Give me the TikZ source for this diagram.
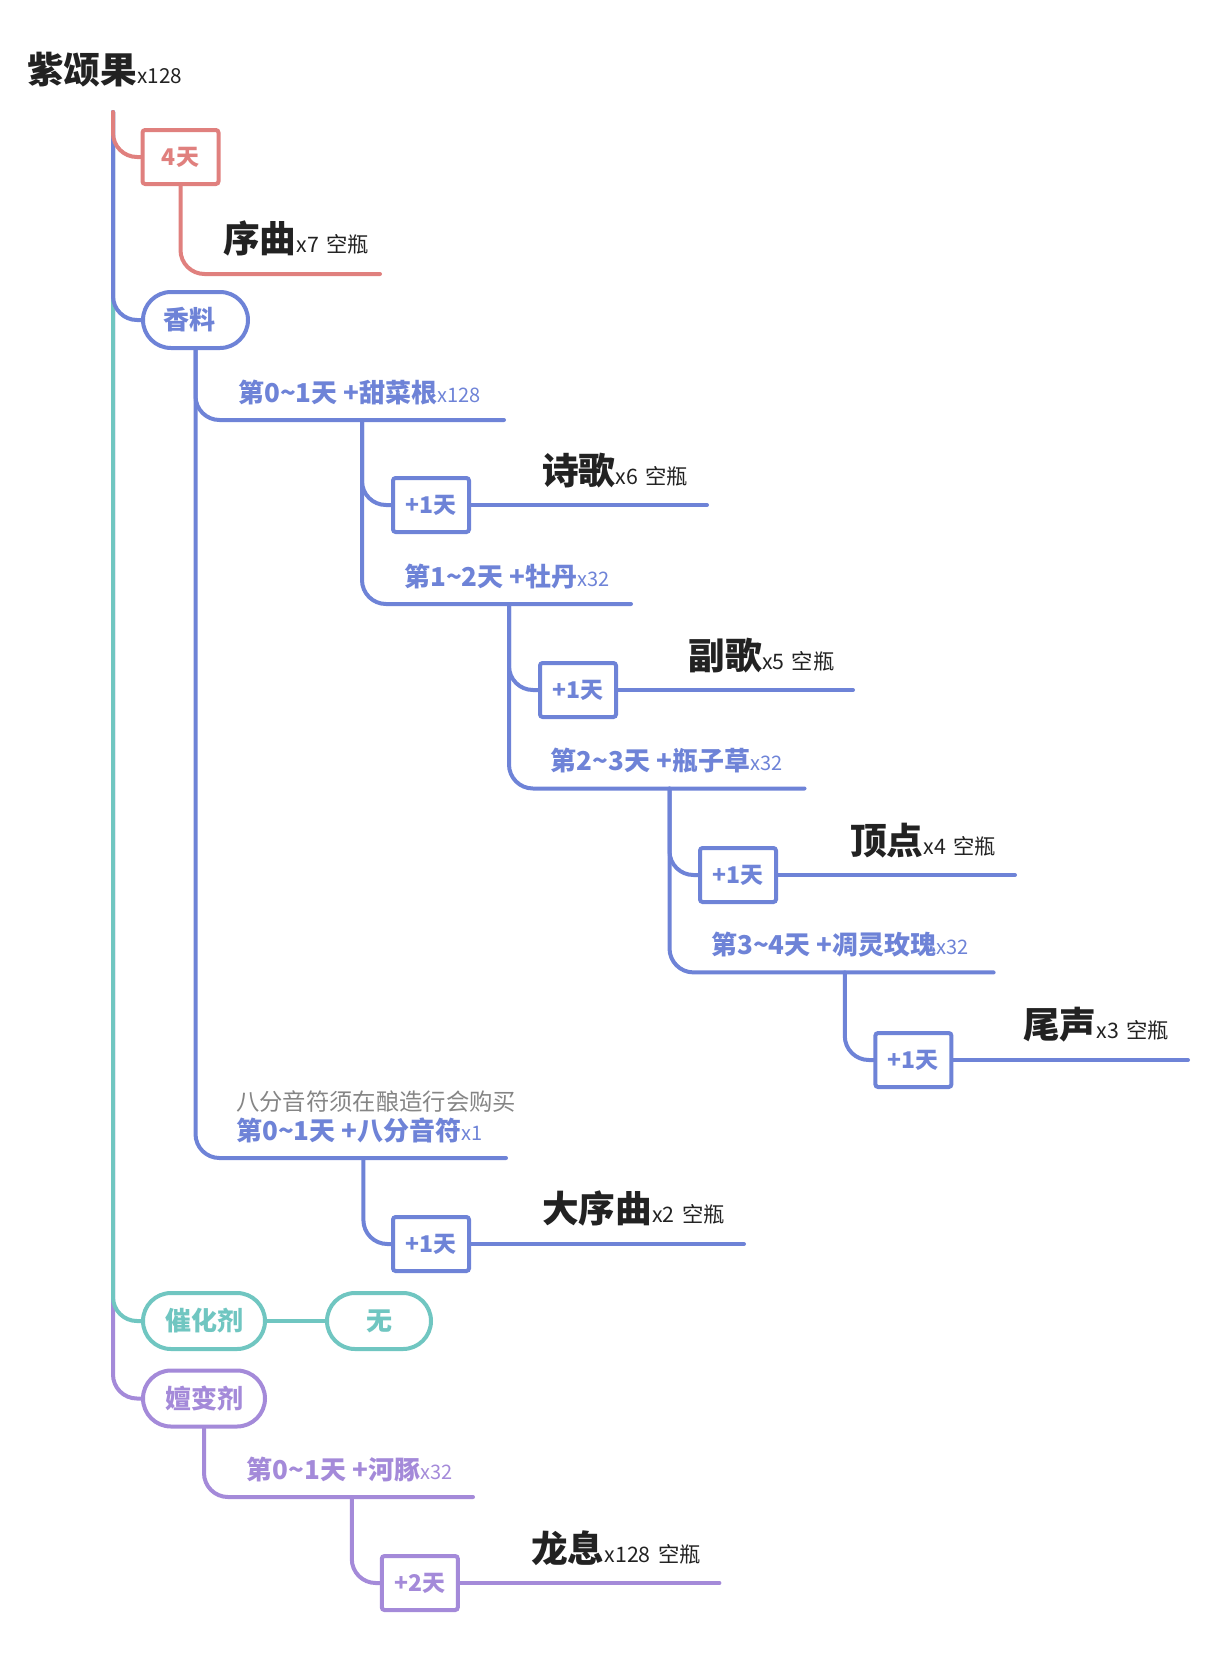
\documentclass[tikz,border=0pt]{standalone}
\usepackage{fontspec}
\setmainfont{Noto Sans CJK SC}
\definecolor{cred}{HTML}{E0807E}
\definecolor{cblue}{HTML}{6E83D7}
\definecolor{cteal}{HTML}{70C6C1}
\definecolor{cpurp}{HTML}{A48AD9}
\definecolor{cgray}{HTML}{858585}
\definecolor{cdark}{HTML}{222222}
\newcommand\fsz[1]{\fontsize{#1}{#1}\selectfont}
\newcommand\prodname[3]{{\fsz{27.5pt}\bfseries #1}{\fsz{16pt}#2\hspace{5.5pt}#3}}
\newcommand\brlab[2]{{\fsz{19.5pt}\bfseries #1}{\fsz{15pt}#2}}
\begin{document}
\begin{tikzpicture}[x=0.75pt,y=-0.75pt,
  ln/.style={line width=3pt,line cap=round,rounded corners=18pt},
  daybox/.style={draw,line width=3pt,rounded corners=2pt,minimum width=57pt,minimum height=40.5pt,inner sep=0pt,fill=white,font=\fsz{17.25pt}\bfseries},
  pill/.style={draw,line width=3pt,rounded corners=21pt,minimum height=42pt,inner sep=0pt,fill=white,font=\fsz{19.5pt}\bfseries},
  txt/.style={anchor=base west,inner sep=0pt,text=cdark},
  blab/.style={anchor=base west,inner sep=0pt}]
\useasboundingbox (0,0) rectangle (1220,1667);
% nodes
\node[txt] (title) at (27,83) {{\fsz{27.5pt}\bfseries 紫颂果}{\fsz{15.5pt}x128}};
\coordinate (root) at (113,112);
\node[daybox,draw=cred,text=cred] (d4) at (180.5,157) {4天};
\node[txt] (n0) at (223,252) {\prodname{序曲}{x7}{空瓶}};
\coordinate (e0) at (380,274);

\node[pill,draw=cblue,text=cblue,minimum width=78.75pt] (spice) at (195.5,320) {香料\kern9pt};
\node[blab,text=cblue] (b1) at (238,402) {\brlab{第0\textasciitilde1天 +甜菜根}{x128}};
\coordinate (b1e) at (504,420);
\coordinate (v1) at (362,420);
\node[daybox,draw=cblue,text=cblue] (p1) at (431,505) {+1天};
\node[txt] (n1) at (542,484) {\prodname{诗歌}{x6}{空瓶}};
\coordinate (p1e) at (707,505);

\node[blab,text=cblue] (b2) at (404,586) {\brlab{第1\textasciitilde2天 +牡丹}{x32}};
\coordinate (b2e) at (631,604);
\coordinate (v2) at (509,604);
\node[daybox,draw=cblue,text=cblue] (p2) at (578,690) {+1天};
\node[txt] (n2) at (688.6,669) {\prodname{副歌}{x5}{空瓶}};
\coordinate (p2e) at (853,690);

\node[blab,text=cblue] (b3) at (550.5,770.5) {\brlab{第2\textasciitilde3天 +瓶子草}{x32}};
\coordinate (b3e) at (804.5,788.5);
\coordinate (v3) at (669.5,788.5);
\node[daybox,draw=cblue,text=cblue] (p3) at (738,875) {+1天};
\node[txt] (n3) at (850,854) {\prodname{顶点}{x4}{空瓶}};
\coordinate (p3e) at (1015,875);

\node[blab,text=cblue] (b4) at (711,954.4) {\brlab{第3\textasciitilde4天 +凋灵玫瑰}{x32}};
\coordinate (b4e) at (993.6,972.4);
\coordinate (v4) at (844.8,972.4);
\node[daybox,draw=cblue,text=cblue] (p4) at (913.4,1060) {+1天};
\node[txt] (n4) at (1023,1038.5) {\prodname{尾声}{x3}{空瓶}};
\coordinate (p4e) at (1188,1060);

\node[blab,text=cgray,font=\fsz{17.5pt}] (gnote) at (236,1110) {八分音符须在酿造行会购买};
\node[blab,text=cblue] (b5) at (236,1140) {\brlab{第0\textasciitilde1天 +八分音符}{x1}};
\coordinate (b5e) at (506,1158);
\coordinate (v5) at (363.4,1158);
\node[daybox,draw=cblue,text=cblue] (p5) at (431,1244) {+1天};
\node[txt] (n5) at (542,1222) {\prodname{大序曲}{x2}{空瓶}};
\coordinate (p5e) at (744,1244);

\node[pill,draw=cteal,text=cteal,minimum width=91.5pt] (cat) at (204,1321) {催化剂};
\node[pill,draw=cteal,text=cteal,minimum width=78pt] (none) at (379,1321) {无};

\node[pill,draw=cpurp,text=cpurp,minimum width=91.5pt] (chg) at (204,1398.5) {嬗变剂};
\node[blab,text=cpurp] (b6) at (246.5,1479) {\brlab{第0\textasciitilde1天 +河豚}{x32}};
\coordinate (b6e) at (473,1497);
\coordinate (v6) at (351.8,1497);
\node[daybox,draw=cpurp,text=cpurp] (pp) at (419.8,1583) {+2天};
\node[txt] (n6) at (531,1562) {\prodname{龙息}{x128}{空瓶}};
\coordinate (ppe) at (719.4,1583);

% connectors
\draw[ln,cpurp] (root) |- (chg.west);
\draw[ln,cteal] (root) |- (cat.west);
\draw[ln,cblue] (root) |- (spice.west);
\draw[ln,cred] (root) |- (d4.west);
\draw[ln,cred] (d4.south) |- (e0);

\draw[ln,cblue] (spice.south) |- (b1e);
\draw[ln,cblue] (spice.south) |- (b5e);
\draw[ln,cblue] (v1) |- (p1.west);
\draw[ln,cblue] (v1) |- (b2e);
\draw[ln,cblue] (p1.east) -- (p1e);
\draw[ln,cblue] (v2) |- (p2.west);
\draw[ln,cblue] (v2) |- (b3e);
\draw[ln,cblue] (p2.east) -- (p2e);
\draw[ln,cblue] (v3) |- (p3.west);
\draw[ln,cblue] (v3) |- (b4e);
\draw[ln,cblue] (p3.east) -- (p3e);
\draw[ln,cblue] (v4) |- (p4.west);
\draw[ln,cblue] (p4.east) -- (p4e);
\draw[ln,cblue] (v5) |- (p5.west);
\draw[ln,cblue] (p5.east) -- (p5e);

\draw[ln,cteal] (cat.east) -- (none.west);

\draw[ln,cpurp] (chg.south) |- (b6e);
\draw[ln,cpurp] (v6) |- (pp.west);
\draw[ln,cpurp] (pp.east) -- (ppe);
\end{tikzpicture}
\end{document}
